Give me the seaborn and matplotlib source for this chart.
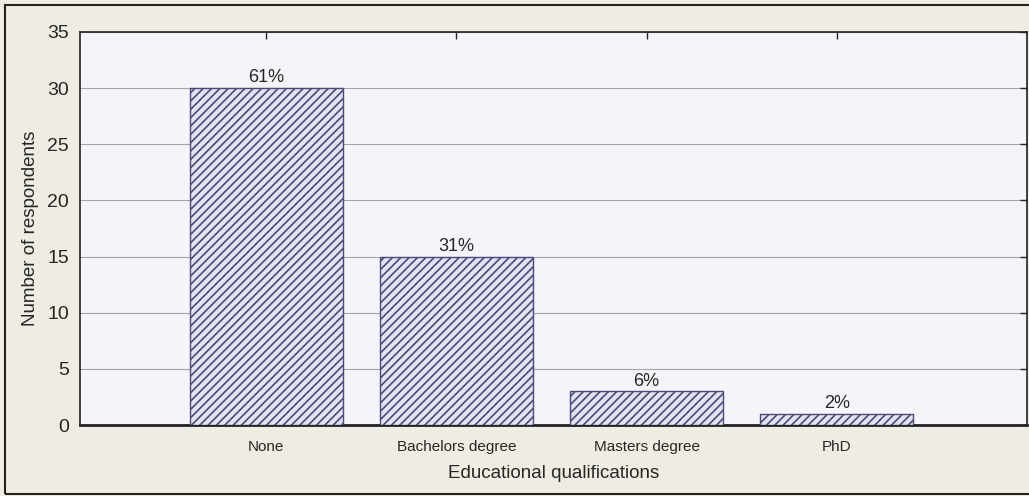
import matplotlib
matplotlib.use("Agg")
import matplotlib.pyplot as plt
from matplotlib.patches import Rectangle
import seaborn as sns
import pandas as pd

# Survey data: respondents by highest educational qualification
categories = ["None", "Bachelors degree", "Masters degree", "PhD"]
respondents = [30, 15, 3, 1]
y_ticks = [0, 5, 10, 15, 20, 25, 30, 35]

df = pd.DataFrame({"qualification": categories, "count": respondents})
total = sum(respondents)

sns.set_style("white")
plt.rcParams["font.family"] = ["Liberation Sans", "DejaVu Sans"]
plt.rcParams["hatch.linewidth"] = 1.2

fig = plt.figure(figsize=(10.29, 4.96), dpi=100, facecolor="#eeece3")
ax = fig.add_axes([0.0777, 0.1431, 0.9203, 0.7924])
ax.set_facecolor("#f5f5f9")

sns.barplot(data=df, x="qualification", y="count", order=categories,
            color="#e2e2f0", edgecolor="#4a4a7e", linewidth=1.0,
            width=0.805, saturation=1, ax=ax, zorder=3)
for bar in ax.patches:
    bar.set_hatch("////")
    bar.set_edgecolor("#4a4a7e")

# percentage share above each bar
for i, v in enumerate(respondents):
    ax.text(i, v + 0.15, f"{round(100 * v / total)}%", ha="center", va="bottom",
            fontsize=13, color="#262626", zorder=4)

ax.set_xlim(-0.98, 4.0)
ax.set_ylim(0, 35)
ax.set_yticks(y_ticks)
ax.grid(axis="y", color="#a4a4ae", linewidth=0.8, zorder=0)
ax.set_axisbelow(True)

ax.tick_params(axis="y", direction="in", length=5, width=1, labelsize=14,
               labelcolor="#262626", right=True, pad=8)
ax.tick_params(axis="x", direction="in", length=5, width=1, labelsize=11,
               labelcolor="#262626", top=True, bottom=False, pad=11)

for side in ["left", "right", "top", "bottom"]:
    ax.spines[side].set_visible(True)
    ax.spines[side].set_color("#222222")
    ax.spines[side].set_linewidth(1.2)
ax.spines["bottom"].set_linewidth(2.0)

ax.set_xlabel("Educational qualifications", fontsize=13.5, color="#262626", labelpad=8)
ax.set_ylabel("Number of respondents", fontsize=13.5, color="#262626", labelpad=6)

# outer frame around the whole chart
fig.patches.append(Rectangle((5 / 1029, 2 / 496), 1.02, 489 / 496,
                             transform=fig.transFigure, fill=False,
                             edgecolor="#222222", linewidth=1.5, zorder=0))

fig.savefig("out.png", dpi=100, facecolor=fig.get_facecolor())
